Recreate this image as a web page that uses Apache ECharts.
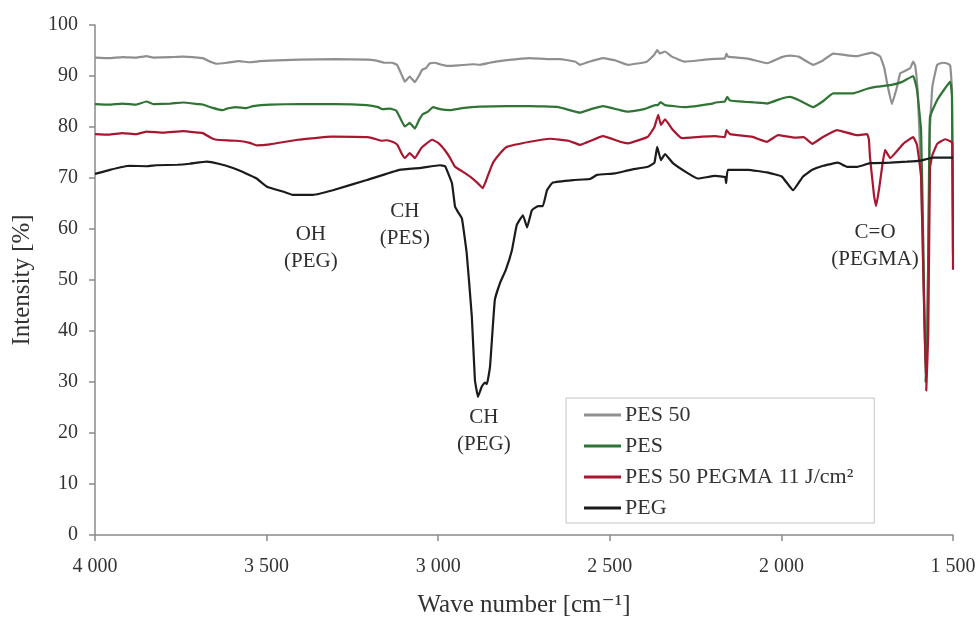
<!DOCTYPE html>
<html>
<head>
<meta charset="utf-8">
<script src="https://cdn.jsdelivr.net/npm/echarts@6/dist/echarts.min.js"></script>
<style>
  html, body { margin: 0; padding: 0; background: #fff; }
  #chart { width: 979px; height: 617px; }
</style>
</head>
<body>
<div id="chart"></div>
<script>
// FTIR spectra: [wave number (cm-1), intensity (%)]
const pes50 = [
  [4000,93.6],[3960,93.5],[3920,93.7],[3880,93.6],[3850,93.9],[3830,93.6],[3780,93.7],[3744,93.8],
  [3700,93.6],[3686,93.5],[3660,92.7],[3645,92.4],[3616,92.6],[3580,92.9],[3549,92.7],[3520,92.9],
  [3490,93.0],[3403,93.2],[3300,93.3],[3208,93.2],[3180,93.0],[3157,92.6],[3135,92.6],[3120,92.2],
  [3105,90.0],[3097,88.9],[3083,89.9],[3068,88.8],[3055,90.2],[3047,91.2],[3035,91.6],[3024,92.5],
  [3010,92.6],[2995,92.3],[2975,92.0],[2940,92.1],[2900,92.3],[2878,92.2],[2850,92.6],[2800,93.1],
  [2733,93.5],[2674,93.3],[2645,93.3],[2600,92.8],[2587,92.2],[2560,92.8],[2520,93.5],[2485,93.1],
  [2447,92.2],[2392,92.8],[2370,94.2],[2362,95.1],[2354,94.4],[2339,94.8],[2319,93.8],[2281,92.8],
  [2222,93.2],[2173,93.4],[2165,93.4],[2160,94.4],[2156,93.8],[2097,93.4],[2042,92.5],[1999,93.7],
  [1975,94.0],[1950,93.8],[1907,92.2],[1880,93.0],[1849,94.4],[1800,94.0],[1779,93.9],[1736,94.6],
  [1712,93.8],[1700,91.5],[1692,88.6],[1678,84.5],[1663,87.9],[1654,90.5],[1640,91.0],[1625,91.5],
  [1616,92.8],[1610,92.0],[1602,85.9],[1593,70],[1586,50],[1580,36],[1575,40],[1570,65],[1567,80],
  [1560,88],[1546,92.2],[1530,92.6],[1515,92.4],[1508,92.0],[1503,87.5],[1500,62]
];

const pes = [
  [4000,84.5],[3960,84.4],[3920,84.6],[3880,84.4],[3850,85.0],[3830,84.5],[3780,84.6],[3744,84.8],
  [3700,84.5],[3686,84.4],[3660,83.8],[3628,83.3],[3616,83.6],[3590,83.9],[3560,83.7],[3540,84.1],
  [3490,84.4],[3403,84.5],[3300,84.5],[3208,84.3],[3175,83.9],[3163,83.5],[3140,83.6],[3122,83.2],
  [3105,81.0],[3097,80.1],[3083,80.8],[3068,79.7],[3055,81.5],[3045,82.5],[3030,83.0],[3015,83.9],
  [2995,83.5],[2966,83.3],[2930,83.7],[2878,84.0],[2800,84.1],[2733,84.1],[2650,83.9],[2587,82.8],
  [2550,83.6],[2520,84.1],[2470,83.3],[2447,83.0],[2400,83.5],[2368,84.3],[2360,84.3],[2352,84.9],
  [2339,84.3],[2281,83.9],[2200,84.6],[2193,84.8],[2165,85.0],[2158,85.9],[2150,85.2],[2077,84.8],
  [2042,84.6],[1999,85.6],[1975,85.9],[1950,85.3],[1907,83.9],[1880,85.0],[1849,86.6],[1791,86.6],
  [1750,87.5],[1721,87.9],[1683,88.2],[1650,88.8],[1616,90.0],[1605,87.3],[1593,79.4],[1586,55],
  [1580,30],[1575,38],[1570,70],[1567,82],[1546,85.3],[1523,87.6],[1508,88.9],[1503,86],[1500,55]
];

const pes50Pegma = [
  [4000,78.6],[3960,78.5],[3920,78.8],[3880,78.6],[3849,79.1],[3800,78.9],[3744,79.2],[3700,78.9],
  [3686,78.8],[3660,77.8],[3645,77.5],[3587,77.3],[3549,76.9],[3529,76.4],[3490,76.6],[3409,77.5],
  [3310,78.1],[3205,78.0],[3180,77.6],[3166,77.3],[3150,77.4],[3130,77.0],[3119,76.5],[3105,74.6],
  [3097,73.9],[3083,74.9],[3068,73.9],[3050,75.8],[3039,76.5],[3018,77.5],[3000,76.9],[2981,75.5],
  [2966,74.0],[2951,72.2],[2930,71.3],[2908,70.3],[2885,69.0],[2870,68.0],[2855,70.5],[2841,72.9],
  [2820,74.8],[2800,76.1],[2733,77.1],[2674,77.7],[2620,77.3],[2587,76.5],[2520,78.2],[2470,77.1],
  [2447,76.8],[2389,78.1],[2370,80],[2359,82.4],[2351,80.4],[2339,81.5],[2316,79.4],[2290,77.8],
  [2231,78.1],[2193,78.2],[2165,78.0],[2160,79.4],[2150,78.6],[2086,78.1],[2042,77.1],[2010,78.4],
  [1960,77.9],[1935,78.0],[1910,76.7],[1880,78.0],[1838,79.4],[1779,78.4],[1750,78.6],[1745,77.5],
  [1742,74.2],[1730,66.5],[1724,64.5],[1715,68],[1707,72],[1698,75.5],[1683,73.9],[1645,76.7],
  [1616,78.0],[1605,76.5],[1593,70.3],[1586,50],[1578,28.3],[1572,40],[1567,72],[1560,74.5],
  [1546,76.7],[1523,77.6],[1508,77.2],[1502,76.9],[1500,52]
];

const peg = [
  [4000,70.8],[3957,71.6],[3899,72.4],[3850,72.3],[3820,72.5],[3760,72.6],[3724,72.8],[3674,73.2],
  [3640,72.8],[3600,72.0],[3560,70.9],[3529,69.9],[3499,68.3],[3450,67.3],[3424,66.7],[3365,66.7],
  [3307,67.6],[3208,69.6],[3113,71.6],[3050,72.0],[2995,72.5],[2980,72.3],[2975,71.6],[2960,69.0],
  [2951,64.4],[2943,63.4],[2931,62.1],[2917,55.3],[2902,42.8],[2893,30.4],[2884,27.1],[2873,29.1],
  [2864,29.9],[2858,29.6],[2849,33],[2835,46.1],[2820,49.4],[2803,52],[2785,55.9],[2771,60.8],
  [2753,62.7],[2741,60.3],[2727,63.7],[2709,64.5],[2695,64.5],[2683,67.6],[2666,69.1],[2607,69.6],
  [2558,69.8],[2537,70.6],[2485,70.9],[2441,71.6],[2389,72.2],[2370,73],[2362,76.1],[2351,73.5],
  [2339,74.7],[2316,72.9],[2272,70.9],[2243,69.9],[2193,70.4],[2164,70.2],[2161,69.0],[2156,71.6],
  [2097,71.6],[2042,71.1],[1999,70.3],[1966,67.6],[1937,70.3],[1910,71.6],[1878,72.4],[1835,73.0],
  [1809,72.2],[1779,72.2],[1742,72.9],[1683,73.0],[1634,73.2],[1596,73.4],[1558,74.0],[1500,74.0]
];

const seriesNames = ['PES 50', 'PES', 'PES 50 PEGMA 11 J/cm²', 'PEG'];
const seriesColors = ['#8f8f8f', '#2f7434', '#a8172f', '#1b1b1b'];
const seriesData = [pes50, pes, pes50Pegma, peg];

// Band assignments written on the plot: [wave number, intensity, text]
const bandLabels = [
  [3371, 56.3, 'OH\n(PEG)'],
  [3097, 60.8, 'CH\n(PES)'],
  [2867, 20.4, 'CH\n(PEG)'],
  [1727, 56.6, 'C=O\n(PEGMA)']
];

const xTicks = { min: 1500, max: 4000, step: 500 };
const yTicks = { min: 0, max: 100, step: 10 };

const serif = '"Liberation Serif", "DejaVu Serif", serif';
const textColor = '#333333';
const axisColor = '#8a8a8a';

const chart = echarts.init(document.getElementById('chart'), null, { renderer: 'canvas' });

const lineSeries = seriesNames.map((name, i) => ({
  name: name,
  type: 'line',
  data: seriesData[i],
  symbol: 'none',
  smooth: 0.1,
  lineStyle: { color: seriesColors[i], width: 2.2 },
  itemStyle: { color: seriesColors[i] },
  z: 2 + i
}));

const labelSeries = {
  type: 'scatter',
  data: bandLabels.map(b => ({ value: [b[0], b[1]], name: b[2] })),
  symbolSize: 0,
  silent: true,
  itemStyle: { opacity: 1, color: 'transparent' },
  label: {
    show: true,
    position: 'inside',
    formatter: p => p.name,
    fontFamily: serif,
    fontSize: 21,
    lineHeight: 27,
    color: '#2e2e2e',
    opacity: 1,
    align: 'center',
    verticalAlign: 'middle'
  },
  z: 10
};

chart.setOption({
  animation: false,
  backgroundColor: '#ffffff',
  grid: { left: 95, right: 26, top: 25, bottom: 82, containLabel: false, outerBoundsMode: 'none' },
  xAxis: {
    type: 'value',
    inverse: true,
    min: xTicks.min,
    max: xTicks.max,
    interval: xTicks.step,
    name: 'Wave number [cm⁻¹]',
    nameLocation: 'middle',
    nameGap: 58,
    nameTextStyle: { fontFamily: serif, fontSize: 25, color: textColor },
    axisLine: { show: true, lineStyle: { color: axisColor, width: 1.5 } },
    axisTick: { show: true, length: 6, inside: false, lineStyle: { color: axisColor, width: 1.5 } },
    axisLabel: {
      margin: 22,
      fontFamily: serif,
      fontSize: 20,
      color: textColor,
      formatter: v => {
        const s = String(v);
        return s.length > 3 ? s.slice(0, s.length - 3) + ' ' + s.slice(-3) : s;
      }
    },
    splitLine: { show: false }
  },
  yAxis: {
    type: 'value',
    min: yTicks.min,
    max: yTicks.max,
    interval: yTicks.step,
    name: 'Intensity [%]',
    nameLocation: 'middle',
    nameGap: 60,
    nameTextStyle: { fontFamily: serif, fontSize: 25, color: textColor },
    axisLine: { show: true, lineStyle: { color: axisColor, width: 1.5 } },
    axisTick: { show: true, length: 6, inside: false, lineStyle: { color: axisColor, width: 1.5 } },
    axisLabel: { margin: 17, fontFamily: serif, fontSize: 20, color: textColor },
    splitLine: { show: false }
  },
  legend: {
    data: seriesNames,
    orient: 'vertical',
    left: 566,
    top: 398,
    padding: [6, 21, 4, 18],
    itemGap: 9,
    itemWidth: 37,
    itemHeight: 14,
    borderColor: '#c4c4c4',
    borderWidth: 1,
    backgroundColor: '#ffffff',
    icon: 'path://M0,6 L37,6 L37,9 L0,9 Z',
    textStyle: { fontFamily: serif, fontSize: 22, color: textColor, padding: [0, 0, 0, -1] }
  },
  series: lineSeries.concat([labelSeries])
});
</script>
</body>
</html>
